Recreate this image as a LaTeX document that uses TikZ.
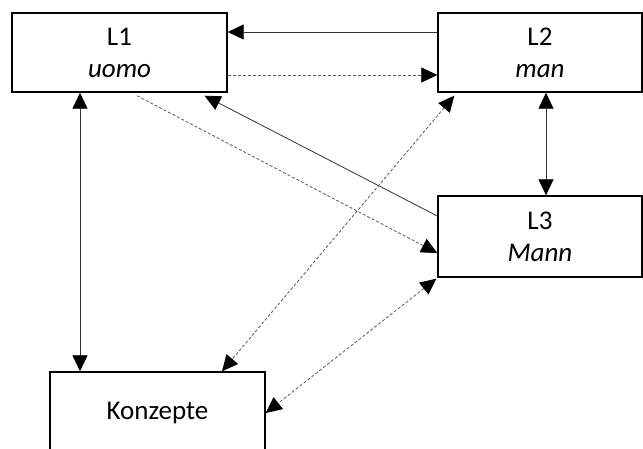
\documentclass[tikz,border=0pt]{standalone}
\usepackage{fontspec}
\setmainfont{Carlito}
\usetikzlibrary{arrows.meta}
\tikzset{Tri/.tip={Triangle[length=16pt,width=15pt,color=black]}}
\begin{document}
\begin{tikzpicture}[x=1pt,y=-1pt,
  box/.style={draw=black,line width=1.4pt,fill=white,inner sep=0pt,align=center,
    font=\fontsize{27}{32}\selectfont},
  conn/.style={draw=black!80,line width=0.8pt},
  dconn/.style={draw=black!65,line width=0.8pt,dash pattern=on 3pt off 2pt},
]
\useasboundingbox (0,0) rectangle (643,448);
\clip (0,0) rectangle (643,448);
\node[box,minimum width=215pt,minimum height=79pt] (L1) at (119.5,52.5) {L1\\\textit{uomo}};
\node[box,minimum width=204pt,minimum height=79pt] (L2) at (540,52.5) {L2\\\textit{man}};
\node[box,minimum width=204pt,minimum height=81pt] (L3) at (540,236.5) {L3\\\textit{Mann}};
\node[box,minimum width=215pt,minimum height=82pt] (K) at (157.5,413) {Konzepte};
% L2 -> L1
\draw[conn,-{Tri}] ([yshift=20.5pt]L2.west) -- ([yshift=20.5pt]L1.east);
% L1 -> L2 dashed
\draw[dconn,-{Tri}] ([yshift=-22.5pt]L1.east) -- ([yshift=-22.5pt]L2.west);
% L1 <-> K
\draw[conn,{Tri}-{Tri}] ([xshift=-39.5pt]L1.south) coordinate (a) -- (a |- K.north);
% L1 -> L3 dashed
\draw[dconn,-{Tri}] ([xshift=17.5pt,yshift=-3pt]L1.south) -- ([yshift=-16.5pt]L3.west);
% L3 -> L1
\draw[conn,-{Tri}] ([yshift=20.5pt]L3.west) -- ([xshift=85pt,yshift=-3pt]L1.south);
% L2 <-> L3
\draw[conn,{Tri}-{Tri}] ([xshift=6pt]L2.south) coordinate (b) -- (b |- L3.north);
% L2 <-> K dashed
\draw[dconn,{Tri}-{Tri}] ([xshift=17pt,yshift=-3pt]L2.south west) -- ([xshift=64.5pt]K.north);
% L3 <-> K dashed
\draw[dconn,{Tri}-{Tri}] ([xshift=-1pt,yshift=-1pt]L3.south west) -- (K.east);
\end{tikzpicture}
\end{document}
